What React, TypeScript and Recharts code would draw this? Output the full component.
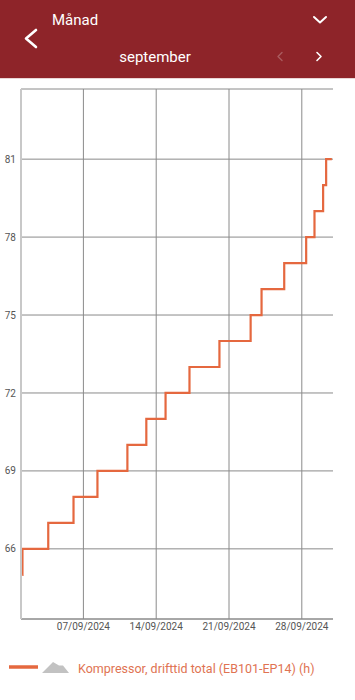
import { LineChart, Line, XAxis, YAxis, CartesianGrid, ReferenceLine } from 'recharts';

// days since 01/09/2024 00:00 and compressor hours read at that moment
const readingDays = [0.12, 0.14, 2.62, 5.05, 7.35, 10.23, 12.05, 13.9, 16.2, 19.08, 22.08, 23.13, 25.31, 27.42, 28.22, 29.05, 29.34, 29.89];
const readingHours = [65, 66, 67, 68, 69, 70, 71, 72, 73, 74, 75, 76, 77, 78, 79, 80, 81, 81];

const xTicks = [6, 13, 20, 27];
const xTickLabels = ['07/09/2024', '14/09/2024', '21/09/2024', '28/09/2024'];
const yTicks = [66, 69, 72, 75, 78, 81];

const seriesName = 'Kompressor, drifttid total (EB101-EP14) (h)';
const lineColor = '#e5683f';
const gridColor = '#8a8a8a';

const data = readingDays.map((d, i) => ({ day: d, hours: readingHours[i] }));

function Header() {
  return (
    <div style={{ position: 'absolute', top: 0, left: 0, width: 355, height: 78, background: '#8e2429', borderBottom: '1px solid #ead6d6' }}>
      <svg width={355} height={78} style={{ position: 'absolute', top: 0, left: 0 }}>
        <polyline points="36,30 26,38.5 36,47" fill="none" stroke="#fff" strokeWidth={2.6} strokeLinecap="round" strokeLinejoin="round" />
        <polyline points="314,17 320,22.5 326,17" fill="none" stroke="#fff" strokeWidth={2} strokeLinecap="round" strokeLinejoin="round" />
        <polyline points="282,52.5 278,56.5 282,60.5" fill="none" stroke="rgba(255,255,255,0.25)" strokeWidth={1.4} strokeLinecap="round" strokeLinejoin="round" />
        <polyline points="317,52.5 321,56.5 317,60.5" fill="none" stroke="#fff" strokeWidth={1.6} strokeLinecap="round" strokeLinejoin="round" />
        <text x={52} y={25} fill="#fff" fontSize={15} fontFamily="Roboto">Månad</text>
        <text x={155} y={62} fill="#fff" fontSize={15} fontFamily="Roboto" textAnchor="middle">september</text>
      </svg>
    </div>
  );
}

export default function App() {
  return (
    <div style={{ position: 'absolute', top: 0, left: 0, width: 355, height: 700, background: '#fff', fontFamily: 'Roboto' }}>
      <Header />
      <div style={{ position: 'absolute', top: 80, left: 0 }}>
        <LineChart width={355} height={560} data={data} margin={{ top: 9, right: 22, left: 0, bottom: 0 }}>
          <CartesianGrid stroke={gridColor} strokeWidth={1} vertical={false} />
          {xTicks.map((t) => (
            <ReferenceLine key={t} x={t} stroke={gridColor} strokeWidth={1} />
          ))}
          <XAxis
            dataKey="day"
            type="number"
            domain={[0, 30]}
            ticks={xTicks}
            interval={0}
            tickFormatter={(v: number) => xTickLabels[xTicks.indexOf(v)] ?? ''}
            tickLine={false}
            tickSize={0}
            tickMargin={4}
            height={21}
            stroke={gridColor}
            tick={{ fill: '#555', fontSize: 10 }}
          />
          <YAxis
            type="number"
            domain={[63.3, 83.7]}
            ticks={yTicks}
            interval={0}
            allowDataOverflow
            tickLine={false}
            tickSize={3}
            tickMargin={2}
            width={21}
            axisLine={{ stroke: '#c8c8c8', strokeWidth: 2 }}
            tick={{ fill: '#555', fontSize: 10 }}
          />
          <Line
            type="stepAfter"
            dataKey="hours"
            name={seriesName}
            stroke={lineColor}
            strokeWidth={2.2}
            dot={false}
            isAnimationActive={false}
          />
        </LineChart>
      </div>
      <div style={{ position: 'absolute', top: 657, left: 0, width: 355, height: 20 }}>
        <svg width={355} height={20} style={{ position: 'absolute', top: 0, left: 0 }}>
          <line x1={9} y1={10} x2={38} y2={10} stroke={lineColor} strokeWidth={3.5} />
          <polygon points="42,16 53,5 59,8.5 63,8.5 69,16" fill="#c2c2c2" />
          <text x={78} y={15.5} fill="#e07352" fontSize={12.5} fontFamily="Roboto">{seriesName}</text>
        </svg>
      </div>
    </div>
  );
}
